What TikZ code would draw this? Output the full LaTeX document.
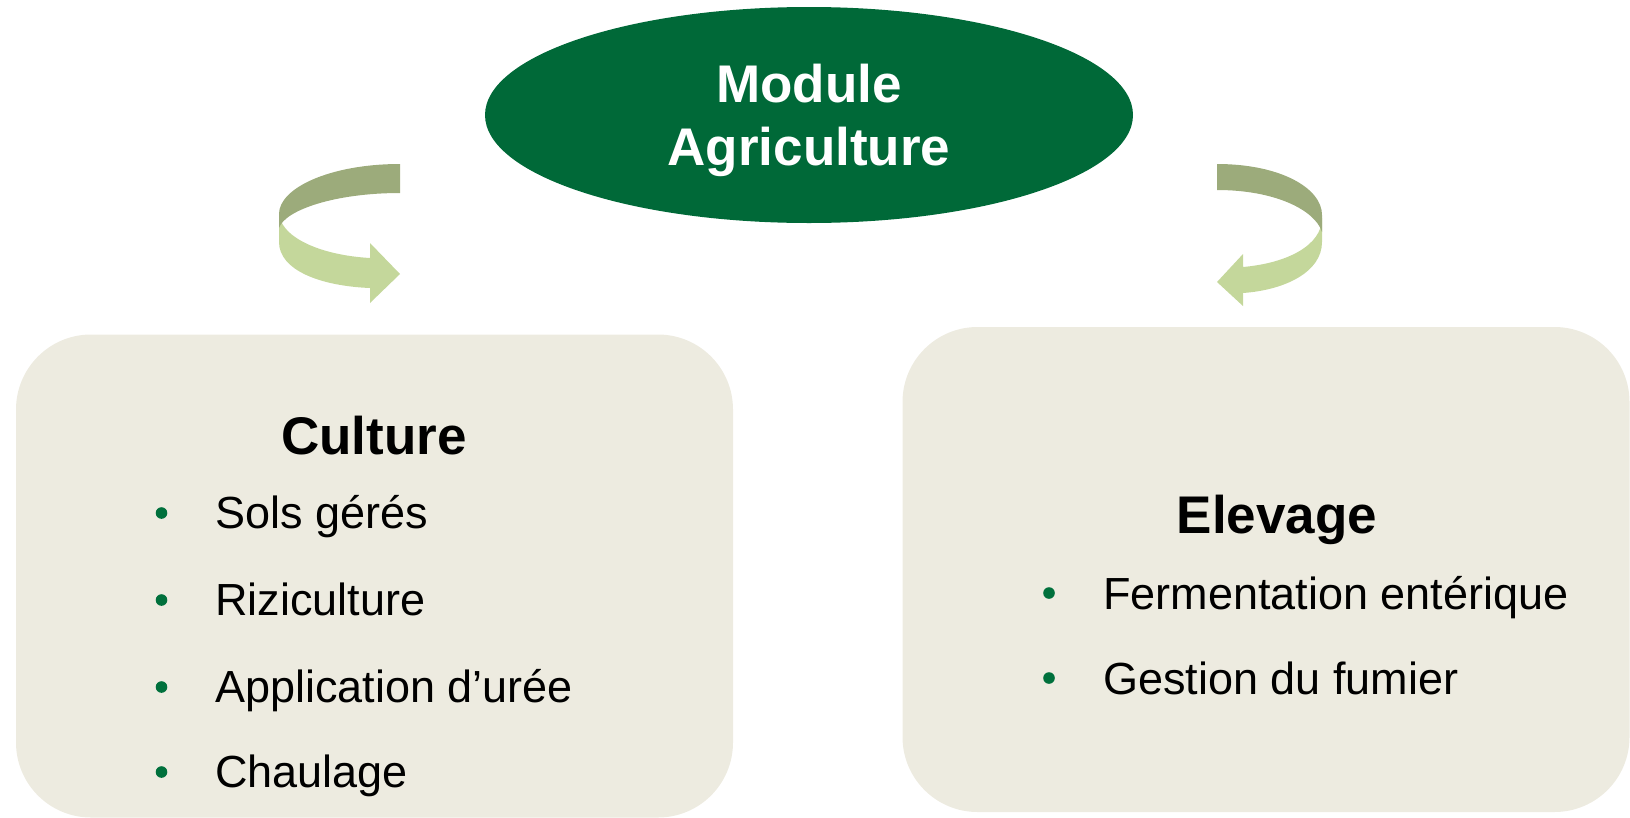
\documentclass[tikz,border=0pt]{standalone}
\usepackage{fontspec}
\setmainfont{Liberation Sans}
\usepackage{tikz}
\usetikzlibrary{shapes.geometric}
\definecolor{modgreen}{RGB}{0,105,56}
\definecolor{boxtan}{RGB}{237,235,224}
\definecolor{banddark}{RGB}{156,171,123}
\definecolor{bandlight}{RGB}{196,215,155}
\definecolor{bulgreen}{RGB}{0,112,60}

\begin{document}
\begin{tikzpicture}[x=1pt,y=-1pt,
    every node/.style={inner sep=0pt},
    headfont/.style={font=\fontsize{53}{63}\selectfont\bfseries},
    itemfont/.style={font=\fontsize{45}{54}\selectfont, anchor=base west},
    tanbox/.style={rectangle,rounded corners=75pt,fill=boxtan}]
    \useasboundingbox (0,0) rectangle (1630,817);
    % boxes and title
    \node[tanbox,minimum width=717pt,minimum height=483pt] (culture) at (374.5,576) {};
    \node[tanbox,minimum width=727pt,minimum height=485pt] (elevage) at (1266,569.5) {};
    \node[ellipse,fill=modgreen,text=white,headfont,align=center,text depth=0pt,
      minimum width=648pt,minimum height=216pt] (module) at (809,115) {Module\\Agriculture};
    % curled arrows
    \fill[bandlight] (279,212) -- (279,242) .. controls (279,270) and (320,286) .. (370,288)
      -- (370,303) -- (400,274) -- (370,243) -- (370,258)
      .. controls (318,255) and (279,236) .. (279,212) -- cycle;
    \fill[banddark] (400,164) .. controls (330,164) and (279,188) .. (279,214)
      -- (279,228) .. controls (285,210) and (335,193) .. (400,193) -- cycle;
    \fill[bandlight] (1322,218) -- (1322,242) .. controls (1322,272) and (1285,290) .. (1243,293)
      -- (1243,306) -- (1217,282) -- (1243,254) -- (1243,267)
      .. controls (1288,263) and (1322,245) .. (1322,218) -- cycle;
    \fill[banddark] (1217,164) .. controls (1280,164) and (1322,188) .. (1322,215)
      -- (1322,232) .. controls (1315,210) and (1275,190) .. (1217,190) -- cycle;
    % box texts
    \node[headfont,anchor=base] (culturetitle) at (374,454) {Culture};
    \node[itemfont] (sols) at (215,528) {Sols gérés};
    \node[itemfont] (riz) at (215,615) {Riziculture};
    \node[itemfont] (uree) at (215,702) {Application d’urée};
    \node[itemfont] (chaul) at (215,787) {Chaulage};
    \node[headfont,anchor=base] (elevagetitle) at (1277,533) {Elevage};
    \node[itemfont] (ferm) at (1103,609) {Fermentation entérique};
    \node[itemfont] (fumier) at (1103,694) {Gestion du fumier};
    % bullets
    \fill[bulgreen] (161.5,513) circle (5.8) (161.5,600) circle (5.8)
      (161.5,687) circle (5.8) (161.5,772) circle (5.8);
    \fill[bulgreen] (1049,593) circle (5.8) (1049,678) circle (5.8);
\end{tikzpicture}
\end{document}
